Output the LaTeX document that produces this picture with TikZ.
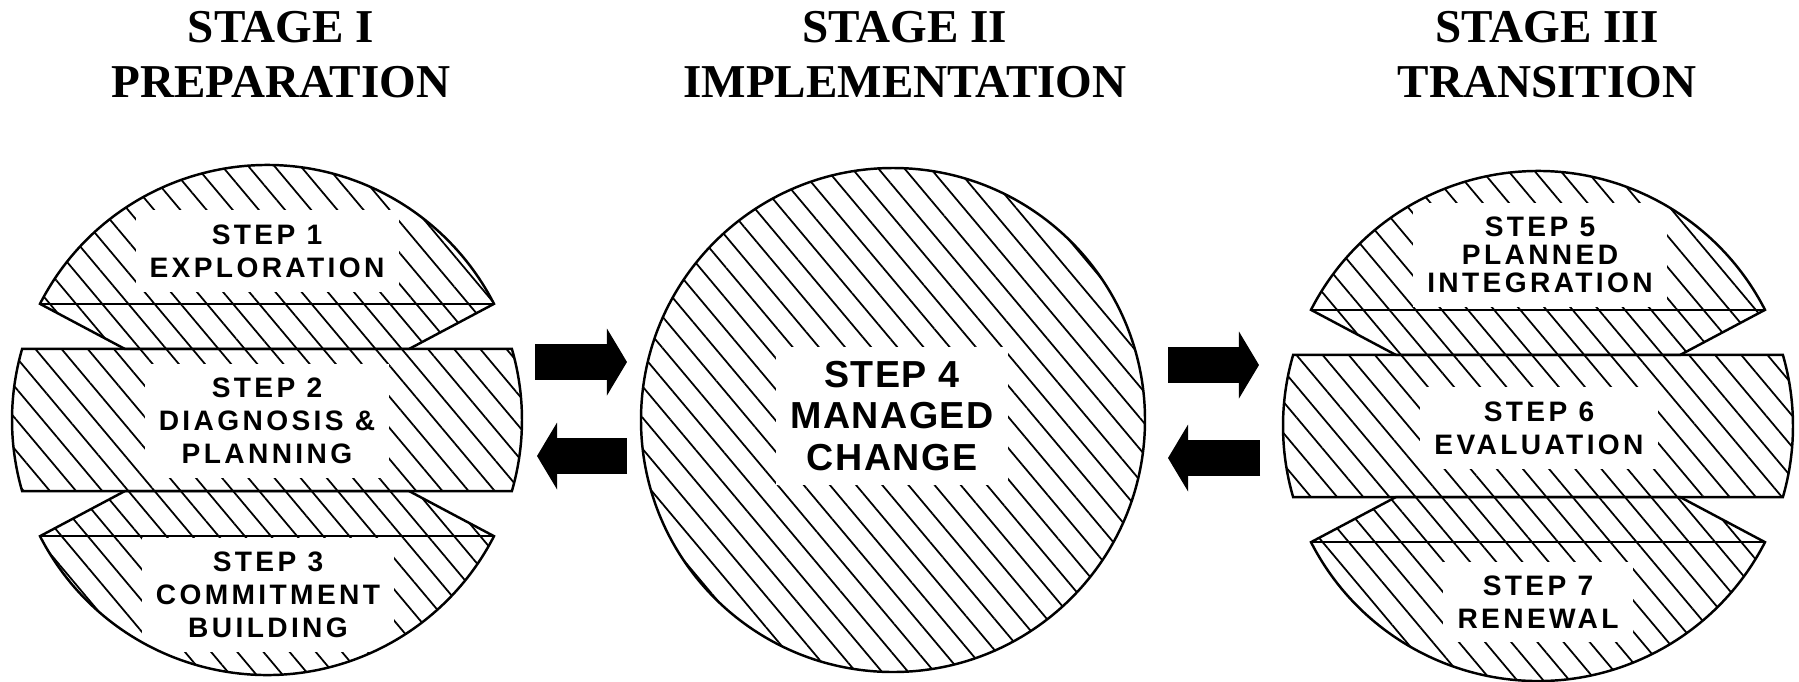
\documentclass[tikz,border=0pt]{standalone}
\usepackage{fontspec}
\usetikzlibrary{patterns.meta,arrows.meta}
\newfontfamily\stagefont{Liberation Serif}
\newfontfamily\stepfont{Liberation Sans}[LetterSpace=12]
\newfontfamily\changefont{Liberation Sans}[LetterSpace=4]
\tikzset{
  stage title/.style={font=\stagefont\bfseries\fontsize{13.4}{15.6}\selectfont,align=center,inner sep=0pt},
  step label/.style={font=\stepfont\bfseries\fontsize{8}{9.4}\selectfont,align=center,fill=white,inner sep=4pt},
  hatched/.style={pattern={Lines[angle=-50,distance=5.7pt,line width=0.5pt]}},
  outline/.style={draw,line width=0.7pt},
  flow/.style={line width=10pt,-{Triangle[width=18.8pt,length=5.7pt]}},
}
% band, top cap and bottom cap of one sliced sphere
\newcommand\sphereslices[1]{%
  \path[#1] (163.8:255) arc[start angle=163.8,end angle=196.2,radius=255]
    -- (-16.2:255) arc[start angle=-16.2,end angle=16.2,radius=255] -- cycle;
  \path[#1] (-142,71) -- (152.9:255) arc[start angle=152.9,end angle=27.1,radius=255]
    -- (142,71) -- cycle;
  \path[#1] (-142,-71) -- (-152.9:255) arc[start angle=-152.9,end angle=-27.1,radius=255]
    -- (142,-71) -- cycle;
}
\begin{document}
\begin{tikzpicture}[x=0.01cm,y=0.01cm]
\useasboundingbox (0,0) rectangle (1799,-681);
\coordinate (c1) at (267,-420);
\coordinate (c2) at (893,-420);
\coordinate (c3) at (1538,-426);

% hatching first, labels blank it out, outlines on top
\foreach \c in {c1,c3} {
  \begin{scope}[shift={(\c)}]
  \sphereslices{hatched}
  \end{scope}
}
\path[hatched] (c2) circle[radius=252];

\node[stage title] (t1) at (281,-55) {STAGE I\\PREPARATION};
\node[stage title] (t2) at (905,-55) {STAGE II\\IMPLEMENTATION};
\node[stage title] (t3) at (1547,-55) {STAGE III\\TRANSITION};

\node[step label] (s1) at (267,-251) {STEP 1\\EXPLORATION};
\node[step label] (s2) at (267,-421) {STEP 2\\DIAGNOSIS \&\\PLANNING};
\node[step label] (s3) at (268,-595) {STEP 3\\COMMITMENT\\BUILDING};
\node[step label,font=\changefont\bfseries\fontsize{10.7}{11.7}\selectfont] (s4) at (892,-416) {STEP 4\\MANAGED\\CHANGE};
\node[step label,font=\stepfont\bfseries\fontsize{8}{8}\selectfont] (s5) at (1540,-255) {STEP 5\\PLANNED\\INTEGRATION};
\node[step label] (s6) at (1539,-428) {STEP 6\\EVALUATION};
\node[step label] (s7) at (1538,-602) {STEP 7\\RENEWAL};

\foreach \c in {c1,c3} {
  \begin{scope}[shift={(\c)}]
  \sphereslices{outline}
  \draw[outline] (152.9:255) -- (27.1:255) (-152.9:255) -- (-27.1:255);
  \end{scope}
}
\draw[outline] (c2) circle[radius=252];

\coordinate (a12) at (535,-362);
\coordinate (b12) at (627,-362);
\coordinate (a21) at (627,-456);
\coordinate (b21) at (537,-456);
\coordinate (a23) at (1168,-365);
\coordinate (b23) at (1259,-365);
\coordinate (a32) at (1260,-458);
\coordinate (b32) at (1168,-458);
\draw[flow] (a12) -- (b12);
\draw[flow] (a21) -- (b21);
\draw[flow] (a23) -- (b23);
\draw[flow] (a32) -- (b32);
\end{tikzpicture}
\end{document}
